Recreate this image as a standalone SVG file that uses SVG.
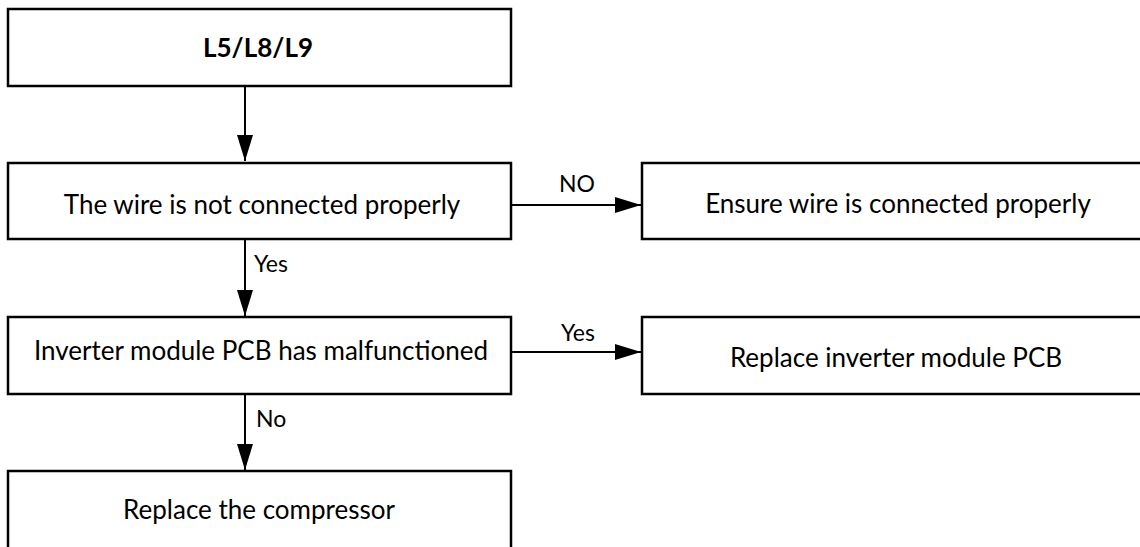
<svg xmlns="http://www.w3.org/2000/svg" width="1140" height="547" viewBox="0 0 1140 547">
<defs>
<marker id="ah" markerWidth="26" markerHeight="16" refX="26" refY="8" orient="auto" markerUnits="userSpaceOnUse">
<path d="M0,0 L26,8 L0,16 Z" fill="#000"/>
</marker>
<style>
.box{fill:#fff;stroke:#000;stroke-width:2.5}
.t{font-family:Lato,"Liberation Sans",sans-serif;font-size:26px;fill:#000;text-anchor:middle}
.lb{font-family:Lato,"Liberation Sans",sans-serif;font-size:23px;fill:#000}
.c{stroke:#000;stroke-width:2;fill:none;marker-end:url(#ah)}
</style>
</defs>
<rect width="1140" height="547" fill="#fff"/>
<g id="n1"><rect class="box" x="8" y="9" width="503" height="77"/><text class="t" x="258" y="57" font-weight="bold" font-size="24">L5/L8/L9</text></g>
<g id="n2"><rect class="box" x="8" y="163" width="503" height="76"/><text class="t" x="262" y="214">The wire is not connected properly</text></g>
<g id="n3"><rect class="box" x="642" y="163" width="510" height="76"/><text class="t" x="898" y="213">Ensure wire is connected properly</text></g>
<g id="n4"><rect class="box" x="8" y="317" width="503" height="77"/><text class="t" x="261" y="360">Inverter module PCB has malfunctioned</text></g>
<g id="n5"><rect class="box" x="642" y="317" width="510" height="77"/><text class="t" x="896" y="367">Replace inverter module PCB</text></g>
<g id="n6"><rect class="box" x="8" y="471" width="503" height="90"/><text class="t" x="259" y="519">Replace the compressor</text></g>
<g id="connectors">
<line class="c" x1="245" y1="86" x2="245" y2="161"/>
<line class="c" x1="511" y1="205" x2="641" y2="205"/>
<text class="lb" x="577" y="192" text-anchor="middle">NO</text>
<line class="c" x1="245" y1="239" x2="245" y2="316"/>
<text class="lb" x="254" y="272">Yes</text>
<line class="c" x1="511" y1="352" x2="641" y2="352"/>
<text class="lb" x="578" y="341" text-anchor="middle">Yes</text>
<line class="c" x1="245" y1="394" x2="245" y2="470"/>
<text class="lb" x="256" y="427">No</text>
</g>
</svg>
